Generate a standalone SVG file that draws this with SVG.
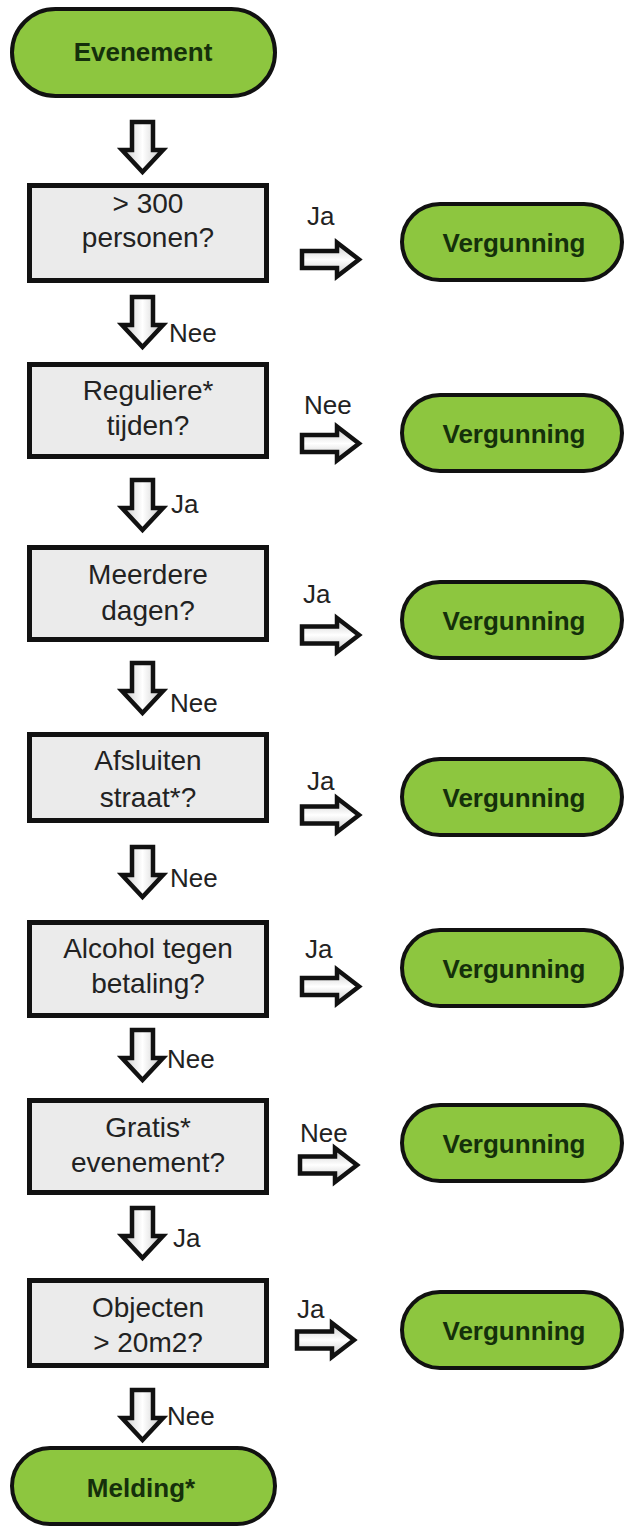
<svg xmlns="http://www.w3.org/2000/svg" width="625" height="1528" viewBox="0 0 625 1528">
<style>
.term{fill:#8DC63F;stroke:#111;stroke-width:4}
.box{fill:#EBEBEB;stroke:#111;stroke-width:5}
.tt{font-family:"Liberation Sans",Arial,sans-serif;font-size:26px;font-weight:bold;fill:#15300B;text-anchor:middle}
.bt{font-family:"Liberation Sans",Arial,sans-serif;font-size:28px;fill:#222;text-anchor:middle}
.lb{font-family:"Liberation Sans",Arial,sans-serif;font-size:26px;fill:#222}
.arr{fill:url(#ag);stroke:#111;stroke-width:4.5;stroke-linejoin:miter}
.arrh{fill:url(#agh);stroke:#111;stroke-width:4.5;stroke-linejoin:miter}
</style>
<defs>
<linearGradient id="ag" x1="0" y1="0" x2="1" y2="0">
<stop offset="0" stop-color="#c8c8c8"/><stop offset="0.5" stop-color="#ffffff"/><stop offset="1" stop-color="#c8c8c8"/>
</linearGradient>
<linearGradient id="agh" x1="0" y1="0" x2="0" y2="1">
<stop offset="0" stop-color="#c8c8c8"/><stop offset="0.5" stop-color="#ffffff"/><stop offset="1" stop-color="#c8c8c8"/>
</linearGradient>
<path id="down" class="arr" d="M-10.5,0 H10.5 V28 H20.5 L0,50 L-20.5,28 H-10.5 Z"/>
<path id="right" class="arrh" d="M0,-8.5 H35 V-17 L57,0 L35,17 V8.5 H0 Z"/>
</defs>
<rect width="625" height="1528" fill="#fff"/>

<g id="connectors">
<use href="#down" x="142.5" y="122"/>
<use href="#down" x="142.5" y="297"/><text class="lb" x="169" y="342">Nee</text>
<use href="#down" x="142.5" y="480"/><text class="lb" x="171" y="513">Ja</text>
<use href="#down" x="142.5" y="663"/><text class="lb" x="170" y="712">Nee</text>
<use href="#down" x="142.5" y="847"/><text class="lb" x="170" y="887">Nee</text>
<use href="#down" x="142.5" y="1030"/><text class="lb" x="167" y="1068">Nee</text>
<use href="#down" x="142.5" y="1208"/><text class="lb" x="173" y="1247">Ja</text>
<use href="#down" x="142.5" y="1390"/><text class="lb" x="167" y="1425">Nee</text>

<use href="#right" x="302" y="259.5"/><text class="lb" x="307" y="225">Ja</text>
<use href="#right" x="302" y="443.5"/><text class="lb" x="304" y="414">Nee</text>
<use href="#right" x="302" y="635"/><text class="lb" x="303" y="603">Ja</text>
<use href="#right" x="302" y="815"/><text class="lb" x="307" y="790">Ja</text>
<use href="#right" x="302" y="986.5"/><text class="lb" x="305" y="958">Ja</text>
<use href="#right" x="300" y="1165"/><text class="lb" x="300" y="1142">Nee</text>
<use href="#right" x="297" y="1340"/><text class="lb" x="297" y="1318">Ja</text>
</g>

<g id="evenement"><rect class="term" x="12" y="9" width="263" height="87" rx="43.5"/><text class="tt" x="143" y="61">Evenement</text></g>

<g id="q1"><rect class="box" x="29.5" y="185.5" width="237" height="95"/><text class="bt" x="148" y="213">&gt; 300</text><text class="bt" x="148" y="247">personen?</text></g>
<g id="q2"><rect class="box" x="29.5" y="364.5" width="237" height="92"/><text class="bt" x="148" y="400">Reguliere*</text><text class="bt" x="148" y="435">tijden?</text></g>
<g id="q3"><rect class="box" x="29.5" y="547.5" width="237" height="92"/><text class="bt" x="148" y="584">Meerdere</text><text class="bt" x="148" y="620">dagen?</text></g>
<g id="q4"><rect class="box" x="29.5" y="734.5" width="237" height="86"/><text class="bt" x="148" y="770">Afsluiten</text><text class="bt" x="148" y="807">straat*?</text></g>
<g id="q5"><rect class="box" x="29.5" y="922.5" width="237" height="93"/><text class="bt" x="148" y="958">Alcohol tegen</text><text class="bt" x="148" y="993">betaling?</text></g>
<g id="q6"><rect class="box" x="29.5" y="1100.5" width="237" height="92"/><text class="bt" x="148" y="1137">Gratis*</text><text class="bt" x="148" y="1172">evenement?</text></g>
<g id="q7"><rect class="box" x="29.5" y="1280.5" width="237" height="85"/><text class="bt" x="148" y="1317">Objecten</text><text class="bt" x="148" y="1352">&gt; 20m2?</text></g>

<g id="v1"><rect class="term" x="402" y="204" width="220" height="76" rx="38"/><text class="tt" x="514" y="252">Vergunning</text></g>
<g id="v2"><rect class="term" x="402" y="395" width="220" height="76" rx="38"/><text class="tt" x="514" y="443">Vergunning</text></g>
<g id="v3"><rect class="term" x="402" y="582" width="220" height="76" rx="38"/><text class="tt" x="514" y="630">Vergunning</text></g>
<g id="v4"><rect class="term" x="402" y="759" width="220" height="76" rx="38"/><text class="tt" x="514" y="807">Vergunning</text></g>
<g id="v5"><rect class="term" x="402" y="930" width="220" height="76" rx="38"/><text class="tt" x="514" y="978">Vergunning</text></g>
<g id="v6"><rect class="term" x="402" y="1105" width="220" height="76" rx="38"/><text class="tt" x="514" y="1153">Vergunning</text></g>
<g id="v7"><rect class="term" x="402" y="1292" width="220" height="76" rx="38"/><text class="tt" x="514" y="1340">Vergunning</text></g>

<g id="melding"><rect class="term" x="12" y="1448" width="263" height="76" rx="38"/><text class="tt" x="141" y="1497">Melding*</text></g>
</svg>
